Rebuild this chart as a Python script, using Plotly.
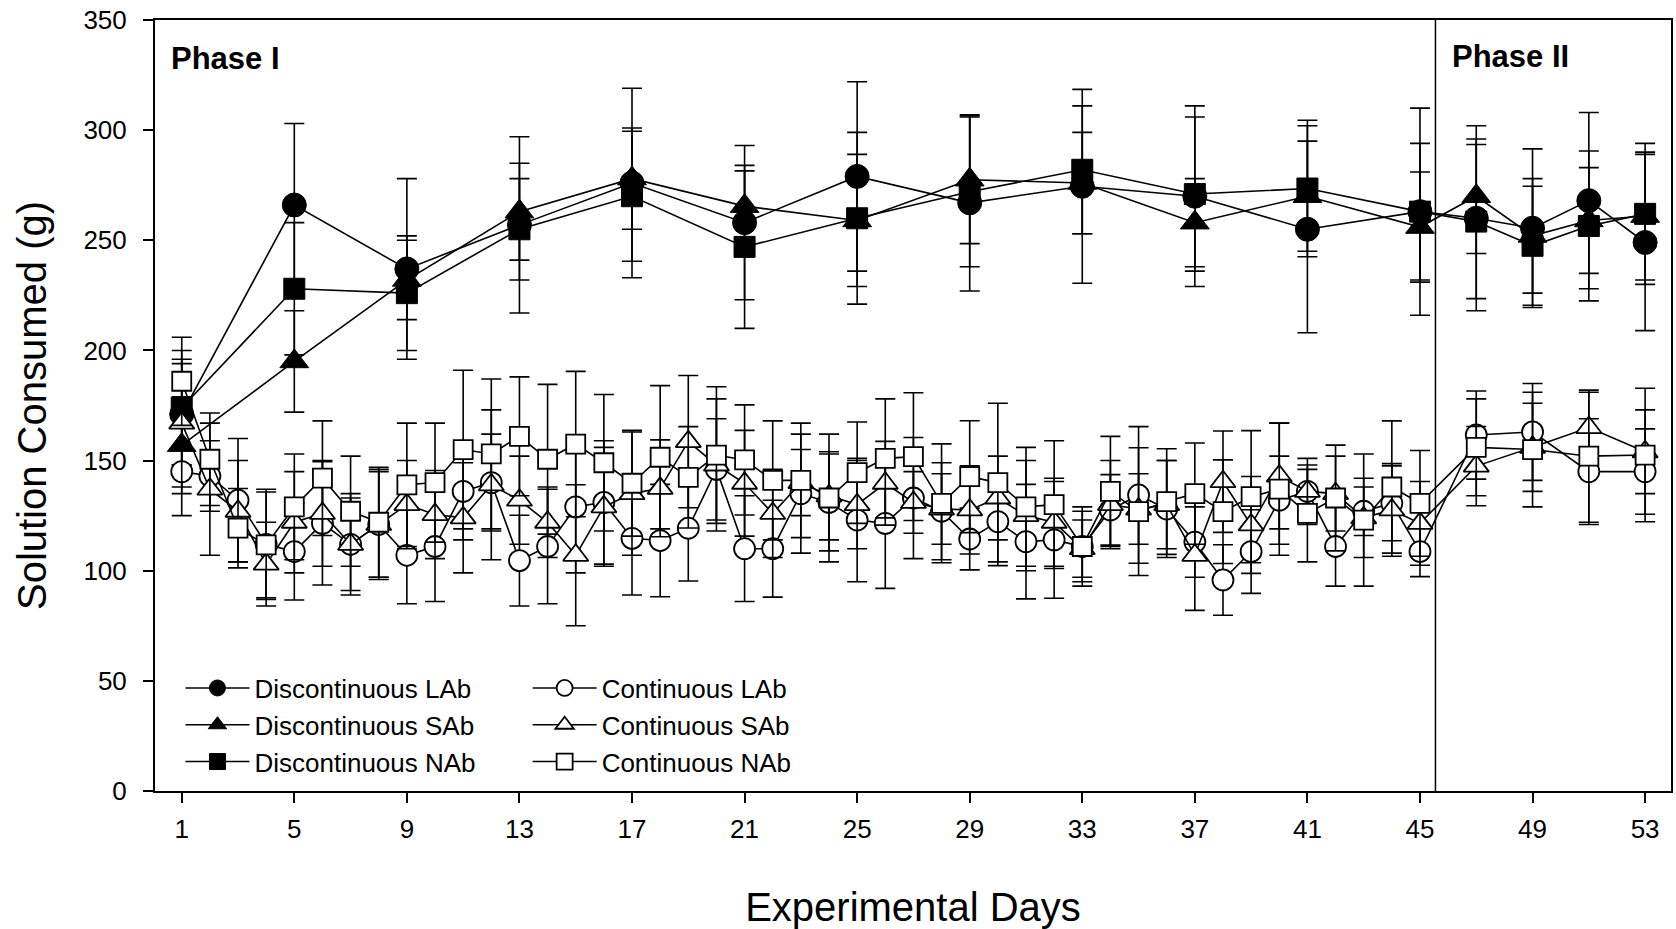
import plotly.graph_objects as go

# ---------------- data ----------------
DISC_DAYS = [1, 5, 9, 13, 17, 21, 25, 29, 33, 37, 41, 45, 47, 49, 51, 53]
CONT_DAYS = [1, 2, 3, 4, 5, 6, 7, 8, 9, 10, 11, 12, 13, 14, 15, 16, 17, 18, 19, 20,
             21, 22, 23, 24, 25, 26, 27, 28, 29, 30, 31, 32, 33, 34, 35, 36, 37, 38,
             39, 40, 41, 42, 43, 44, 45, 47, 49, 51, 53]

DISC_LAB = [171, 266, 237, 257, 276, 258, 279, 267, 274.5, 270, 255, 263, 260, 255.5, 268, 249]
DISC_LAB_ERR = [23, 37, 41, 40, 43, 35, 43, 40, 44, 41, 47, 47, 42, 36, 40, 40]
DISC_SAB = [157, 195, 232, 263, 278, 265.5, 259, 277.5, 276, 258, 270, 256, 270, 252, 259, 261]
DISC_SAB_ERR = [22, 23, 18, 22, 23, 16, 30, 29, 23, 20, 25, 25, 26, 26, 24, 29]
DISC_NAB = [174, 228, 226, 255, 270, 247, 260, 272, 282, 271, 273.5, 263, 258.5, 247.5, 256.5, 262]
DISC_NAB_ERR = [26, 30, 26, 23, 29.5, 37, 39, 34, 29, 35, 31, 31, 35, 27, 34, 32]

CONT_LAB = [145, 143, 132, 112, 108.7, 121.5, 112, 121, 107, 111, 136, 140, 104.6, 111, 129,
            131, 114.7, 113.7, 119.3, 146, 110, 110, 135, 131, 123, 121.5, 133, 127, 114.4,
            122.3, 113.2, 114, 111, 127.6, 134.4, 128, 113, 95.8, 108.7, 132, 136, 111, 127,
            130.6, 108.7, 161.6, 163, 145, 145]
CONT_LAB_ERR = [20, 16, 28, 25, 22, 28, 23, 25, 22, 25, 22, 22, 20.6, 26, 30, 28, 25.7, 25.5,
                24, 23, 24, 22, 27, 22, 28, 29.5, 27.5, 22, 14, 20, 26, 26.5, 18, 16, 31, 22,
                16, 16, 19, 20, 15, 18, 11, 17, 11.4, 20, 22, 24, 19.4]
CONT_SAB = [167, 137, 127, 103, 122, 126, 112, 121, 130, 125.5, 124, 139, 132, 122, 107, 129,
            135, 137.4, 158.6, 148, 139.7, 126, 140, 134, 130, 139.7, 131, 128, 127.6, 133,
            125, 122, 110, 130, 128, 130, 107, 140.4, 120.8, 143, 136, 135, 124, 127.6, 121.5,
            147.5, 156, 165, 154]
CONT_SAB_ERR = [29, 30, 23, 19, 23, 24, 21, 24, 20, 20, 25, 34, 20, 16, 32, 27, 28, 22, 30, 30,
                24, 20, 15, 20, 20, 19, 14, 16, 20, 19, 25, 20, 13, 20, 16, 20, 25, 23, 22, 24,
                10, 17, 18, 21, 19, 18, 20, 16, 19]
CONT_NAB = [186, 150.6, 119.3, 111.7, 129, 142, 127, 122, 139, 140, 155, 153, 161, 150.6, 157.5,
            149, 139.7, 151.5, 142.4, 152.5, 150.3, 141, 141, 133, 144.5, 151, 151.8, 130.6,
            142.7, 140, 129, 130, 111, 136, 126.8, 131.4, 135, 126.8, 133.6, 137, 126, 133,
            123, 138, 130.6, 156, 155, 152, 152.5]
CONT_NAB_ERR = [20, 21, 18, 24, 24, 26, 25, 25, 28, 27, 36, 34, 27, 34, 33, 31, 24, 32.5, 23, 31,
                25, 27, 26, 29, 23, 27, 29, 27, 25.4, 36, 27, 29, 16, 25, 29, 24, 23, 23.5, 30,
                30, 22, 24, 30, 30, 24, 22, 26, 30, 30.3]

X_TICKS = [1, 5, 9, 13, 17, 21, 25, 29, 33, 37, 41, 45, 49, 53]
Y_TICKS = [0, 50, 100, 150, 200, 250, 300, 350]
PHASE_BOUNDARY = 45.55

FONT = "Liberation Sans, Arial, Helvetica, sans-serif"

fig = go.Figure()


def add(name, x, y, err, symbol, size, legend, filled):
    fig.add_trace(go.Scatter(
        x=x, y=y, name=name, mode="lines+markers", legend=legend,
        line=dict(color="black", width=1.6),
        marker=dict(symbol=symbol, size=size,
                    color="black" if filled else "white",
                    line=dict(color="black", width=1 if filled else 1.8)),
        error_y=dict(type="data", array=err, visible=True, color="black",
                     thickness=1.6, width=10),
    ))


add("Discontinuous LAb", DISC_DAYS, DISC_LAB, DISC_LAB_ERR, "circle", 24, "legend", True)
add("Discontinuous SAb", DISC_DAYS, DISC_SAB, DISC_SAB_ERR, "triangle-up", 25, "legend", True)
add("Discontinuous NAb", DISC_DAYS, DISC_NAB, DISC_NAB_ERR, "square", 21, "legend", True)
add("Continuous LAb", CONT_DAYS, CONT_LAB, CONT_LAB_ERR, "circle", 21, "legend2", False)
add("Continuous SAb", CONT_DAYS, CONT_SAB, CONT_SAB_ERR, "triangle-up", 22, "legend2", False)
add("Continuous NAb", CONT_DAYS, CONT_NAB, CONT_NAB_ERR, "square", 19, "legend2", False)

axis_common = dict(
    showline=True, linewidth=2, linecolor="black", mirror=True,
    showgrid=False, zeroline=False, ticks="outside", ticklen=10, tickwidth=1.5,
    tickcolor="black", tickfont=dict(size=26, color="black", family=FONT),
)

fig.update_xaxes(range=[0.05, 53.92], tickvals=X_TICKS, ticklabelstandoff=4,
                 title=dict(text="Experimental Days", font=dict(size=40, color="black", family=FONT),
                            standoff=52),
                 **axis_common)
fig.update_yaxes(range=[0, 350], tickvals=Y_TICKS, ticklabelstandoff=11,
                 title=dict(text="Solution Consumed (g)", font=dict(size=40, color="black", family=FONT),
                            standoff=24),
                 **axis_common)

fig.add_shape(type="line", xref="x", yref="paper", x0=PHASE_BOUNDARY, x1=PHASE_BOUNDARY,
              y0=0, y1=1, line=dict(color="black", width=1.5))

fig.add_annotation(text="<b>Phase I</b>", xref="paper", yref="paper", x=0.0092, y=0.950,
                   xanchor="left", yanchor="middle", showarrow=False,
                   font=dict(size=31, color="black", family=FONT))
fig.add_annotation(text="<b>Phase II</b>", xref="paper", yref="paper", x=0.8544, y=0.953,
                   xanchor="left", yanchor="middle", showarrow=False,
                   font=dict(size=31, color="black", family=FONT))

legend_common = dict(xanchor="left", yanchor="top", bgcolor="rgba(0,0,0,0)",
                     font=dict(size=26, color="black", family=FONT), itemwidth=64,
                     tracegroupgap=0)
fig.update_layout(
    width=1676, height=929,
    margin=dict(l=155, r=3, t=20, b=138),
    paper_bgcolor="white", plot_bgcolor="white",
    font=dict(family=FONT, color="black"),
    legend=dict(x=0.0168, y=0.164, **legend_common),
    legend2=dict(x=0.2458, y=0.164, **legend_common),
)

fig.write_html("out.html")
